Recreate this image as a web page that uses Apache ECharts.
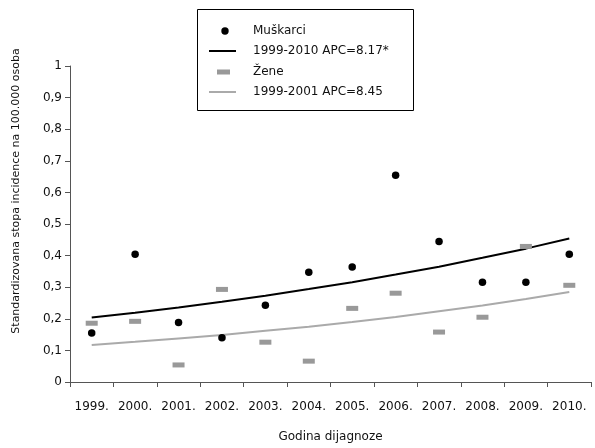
<!DOCTYPE html>
<html>
<head>
<meta charset="utf-8">
<script src="https://cdn.jsdelivr.net/npm/echarts@6/dist/echarts.min.js"></script>
<style>
  html, body { margin: 0; padding: 0; background: #fff; }
  #chart { width: 595px; height: 448px; }
</style>
</head>
<body>
<div id="chart"></div>
<script>
// Years of diagnosis
const years = ['1999.', '2000.', '2001.', '2002.', '2003.', '2004.', '2005.', '2006.', '2007.', '2008.', '2009.', '2010.'];

// Age-standardised incidence per 100,000
const men = [0.155, 0.404, 0.188, 0.140, 0.243, 0.347, 0.364, 0.654, 0.445, 0.316, 0.316, 0.404];
const women = [0.186, 0.192, 0.054, 0.293, 0.126, 0.066, 0.233, 0.281, 0.158, 0.205, 0.429, 0.306];

// Joinpoint trend fits
const menTrend = [0.204, 0.219, 0.236, 0.254, 0.273, 0.294, 0.316, 0.340, 0.365, 0.393, 0.422, 0.454];
const womenTrend = [0.117, 0.127, 0.138, 0.149, 0.162, 0.175, 0.190, 0.206, 0.224, 0.242, 0.263, 0.285];

// Series / legend labels
const names = ['Muškarci', '1999-2010 APC=8.17*', 'Žene', '1999-2001 APC=8.45'];

const FONT = 'DejaVu Sans';
const TXT = '#111';
const AXIS = '#555';
const GREY_MARK = '#999999';
const GREY_LINE = '#aaaaaa';

const chart = echarts.init(document.getElementById('chart'), null, { renderer: 'canvas' });

// Legend box drawn as a graphic group
const lx = 197, ly = 9, lw = 216, lh = 101;
const rowY = [31, 51, 72, 92];
const textX = 253;

const legendGraphics = [
  { type: 'rect', shape: { x: lx + 0.5, y: ly + 0.5, width: lw, height: lh }, style: { fill: '#fff', stroke: '#000', lineWidth: 1 } },
  { type: 'circle', shape: { cx: 225, cy: rowY[0], r: 3.7 }, style: { fill: '#000' } },
  { type: 'line', shape: { x1: 209, y1: rowY[1], x2: 236, y2: rowY[1] }, style: { stroke: '#000', lineWidth: 2 } },
  { type: 'rect', shape: { x: 217, y: rowY[2] - 2.5, width: 13, height: 5 }, style: { fill: GREY_MARK } },
  { type: 'line', shape: { x1: 209, y1: rowY[3], x2: 236, y2: rowY[3] }, style: { stroke: GREY_LINE, lineWidth: 2 } }
];
names.forEach((n, i) => {
  legendGraphics.push({
    type: 'text', x: textX, y: rowY[i],
    style: { text: n, fill: TXT, font: '12px "' + FONT + '"', textVerticalAlign: 'middle', textAlign: 'left' }
  });
});

const option = {
  animation: false,
  backgroundColor: '#fff',
  grid: { left: 70, right: 4, top: 66, bottom: 65, containLabel: false },
  xAxis: {
    type: 'category',
    data: years,
    boundaryGap: true,
    name: 'Godina dijagnoze',
    nameLocation: 'middle',
    nameGap: 49,
    nameTextStyle: { color: TXT, fontFamily: FONT, fontSize: 12 },
    axisLine: { lineStyle: { color: AXIS, width: 1 } },
    axisTick: { show: true, length: 5, lineStyle: { color: AXIS } },
    axisLabel: { color: TXT, fontFamily: FONT, fontSize: 12, margin: 19, interval: 0 },
    splitLine: { show: false }
  },
  yAxis: {
    type: 'value',
    min: 0,
    max: 1,
    interval: 0.1,
    axisLine: { show: true, lineStyle: { color: AXIS, width: 1 } },
    axisTick: { show: true, length: 5, lineStyle: { color: AXIS } },
    axisLabel: {
      color: TXT, fontFamily: FONT, fontSize: 12, margin: 8,
      formatter: v => String(Math.round(v * 10) / 10).replace('.', ',')
    },
    splitLine: { show: false }
  },
  graphic: [
    {
      type: 'text',
      x: 16, y: 191,
      rotation: Math.PI / 2,
      style: {
        text: 'Standardizovana stopa incidence na 100.000 osoba',
        fill: TXT, font: '11px "' + FONT + '"',
        textAlign: 'center', textVerticalAlign: 'middle'
      }
    },
    { type: 'group', children: legendGraphics }
  ],
  series: [
    {
      name: names[1], type: 'line', data: menTrend,
      showSymbol: false, smooth: false,
      lineStyle: { color: '#000', width: 2 }, z: 2
    },
    {
      name: names[3], type: 'line', data: womenTrend,
      showSymbol: false, smooth: false,
      lineStyle: { color: GREY_LINE, width: 2 }, z: 2
    },
    {
      name: names[0], type: 'scatter', data: men,
      symbol: 'circle', symbolSize: 7.5,
      itemStyle: { color: '#000', opacity: 1 }, z: 3
    },
    {
      name: names[2], type: 'scatter', data: women,
      symbol: 'rect', symbolSize: [12, 5],
      itemStyle: { color: GREY_MARK, opacity: 1 }, z: 3
    }
  ]
};

chart.setOption(option);
</script>
</body>
</html>
